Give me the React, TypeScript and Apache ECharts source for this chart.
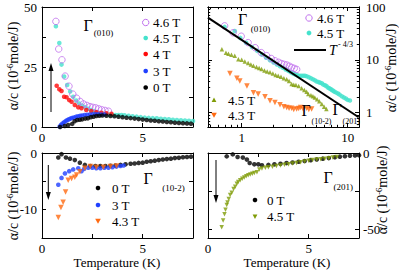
import React, { useEffect, useRef } from 'react';
import * as echarts from 'echarts';

// ---------- Panel 1: Gamma(010), linear ----------
const T46 = [0.69, 0.83, 0.99, 1.15, 1.34, 1.53, 1.72, 1.9, 2.06, 2.23, 2.38, 2.52, 2.66, 2.81, 2.96, 3.13, 3.3];
const V46 = [44, 32.5, 28, 21.2, 17, 13.7, 12, 10.6, 9.6, 9.0, 8.5, 8.2, 8.0, 7.6, 7.2, 6.9, 6.6];
const T45 = [0.69, 0.86, 0.97, 1.1, 1.25, 1.4, 1.55, 1.7, 1.85, 2.0, 2.15, 2.3, 2.45, 2.6, 2.75, 2.9, 3.05, 3.2, 3.35, 3.5, 3.65, 3.8, 3.95, 4.1, 4.3, 4.5, 4.7, 4.9, 5.1, 5.3, 5.5, 5.7, 5.9, 6.1, 6.3, 6.5, 6.7, 6.9, 7.1, 7.3, 7.5, 7.8, 8.1, 8.4, 8.8, 9.2, 9.6, 10.0, 10.5];
const V45 = [42, 35, 26, 21, 17.5, 14.8, 12.6, 11.0, 9.8, 8.9, 8.2, 7.6, 7.1, 6.6, 6.2, 5.8, 5.5, 5.3, 5.1, 5.0, 5.0, 5.0, 5.0, 4.9, 4.7, 4.5, 4.3, 4.1, 3.9, 3.8, 3.7, 3.6, 3.4, 3.3, 3.2, 3.0, 2.9, 2.8, 2.7, 2.6, 2.5, 2.4, 2.3, 2.2, 2.05, 1.95, 1.85, 1.75, 1.7];
const T4 = [0.73, 0.86, 0.97, 1.1, 1.22, 1.35, 1.47, 1.63, 1.8, 1.96, 2.2, 2.45, 2.7, 2.95, 3.2, 3.45];
const V4 = [17.2, 15.7, 15, 12.6, 12.4, 11.2, 10.5, 9.2, 8.2, 7.8, 7.1, 6.6, 6.2, 5.9, 5.7, 5.5];
const T3 = [0.88, 0.95, 1.02, 1.1, 1.18, 1.26, 1.34, 1.42, 1.5, 1.6, 1.7, 1.8, 1.9, 2.0, 2.12, 2.25, 2.38, 2.52, 2.66, 2.8, 2.95, 3.1];
const V3 = [0.2, 0.9, 1.5, 2.0, 2.5, 2.9, 3.2, 3.5, 3.8, 4.0, 4.3, 4.5, 4.7, 4.8, 5.0, 5.1, 5.2, 5.3, 5.3, 5.3, 5.2, 5.2];
const T0a = [0.9, 1.13, 1.3, 1.5, 1.62, 1.75, 1.88, 2.0, 2.15, 2.28, 2.42, 2.56, 2.7, 2.85, 3.0, 3.2, 3.4, 3.6, 3.8, 4.0, 4.2, 4.4, 4.6, 4.8, 5.0, 5.2, 5.4, 5.6, 5.8, 6.0, 6.2, 6.4, 6.6, 6.8, 7.0, 7.2, 7.4];
const V0a = [0.0, 0.4, 0.8, 1.3, 2.4, 2.9, 3.0, 3.2, 3.5, 3.6, 4.1, 4.3, 4.6, 4.7, 4.8, 4.7, 4.6, 4.5, 4.3, 4.1, 3.9, 3.7, 3.5, 3.3, 3.1, 2.9, 2.7, 2.6, 2.4, 2.3, 2.1, 2.0, 1.8, 1.7, 1.6, 1.5, 1.4];

// ---------- Panel 2: log-log |alpha/c| ----------
const T45o = [0.65, 0.71, 0.75, 0.8, 0.86, 0.93, 1.0, 1.07, 1.15, 1.22, 1.29, 1.38, 1.46, 1.54, 1.64, 1.74, 1.85, 1.97, 2.09, 2.21, 2.35, 2.5, 2.66, 2.8, 2.96, 3.1, 3.25, 3.45, 3.68, 3.9, 4.1, 4.25, 4.5, 4.7, 4.9, 5.15, 5.4, 5.7, 6.0, 6.3];
const V45o = [15.9, 13.7, 13.1, 12.5, 11.9, 10.3, 10.0, 9.3, 8.7, 8.2, 7.7, 7.3, 7.0, 6.7, 6.3, 6.0, 5.8, 5.5, 5.2, 5.0, 4.8, 4.5, 4.3, 4.0, 3.5, 3.4, 3.35, 3.2, 2.9, 2.7, 2.5, 2.25, 2.15, 2.05, 1.95, 1.8, 1.65, 1.46, 1.3, 1.17];
const T43o = [0.775, 0.9, 0.96, 1.12, 1.29, 1.43, 1.66, 1.85, 2.06, 2.3, 2.5, 2.66, 2.8, 2.96, 3.1, 3.3, 3.45, 3.6, 3.8, 4.1, 4.3, 4.57];
const V43o = [5.5, 4.5, 4.0, 3.2, 2.4, 2.25, 2.0, 1.68, 1.56, 1.42, 1.3, 1.26, 1.22, 1.22, 1.15, 1.17, 1.2, 1.25, 1.18, 1.22, 1.15, 1.17];
const FIT_T = [0.48, 12.7];
const FIT_V = [63, 0.82];

// ---------- Panel 3: Gamma(10-2) ----------
const T0c = [0.81, 0.97, 1.19, 1.39, 1.63, 1.88, 2.13, 2.4, 2.65, 2.9, 3.15, 3.4, 3.65, 3.9, 4.15, 4.4, 4.6, 4.8, 5.0, 5.2, 5.4, 5.6, 5.8, 6.0, 6.2, 6.4, 6.6, 6.8, 7.0, 7.2, 7.4];
const V0c = [-0.8, -0.2, -0.8, -1.0, -1.25, -1.7, -2.1, -2.3, -2.3, -2.3, -2.3, -2.25, -2.2, -2.1, -2.0, -1.9, -1.85, -1.75, -1.7, -1.55, -1.45, -1.35, -1.25, -1.15, -1.07, -1.0, -0.9, -0.85, -0.75, -0.7, -0.65];
const T3c = [0.81, 0.97, 1.14, 1.35, 1.55, 1.8, 1.96, 2.1, 2.3, 2.5, 2.7, 2.9, 3.1, 3.3, 3.5, 3.7, 3.9, 4.05];
const V3c = [-5.6, -4.4, -3.6, -3.2, -2.9, -2.7, -3.2, -2.8, -2.6, -2.6, -2.7, -2.7, -2.6, -2.6, -2.5, -2.4, -2.3, -2.2];
const T43c = [0.81, 0.94, 1.05, 1.17, 1.3, 1.47, 1.63, 1.72, 1.88, 2.13, 2.4, 2.7, 3.05, 3.4, 3.7];
const V43c = [-11.4, -9.6, -8.7, -6.9, -4.8, -4.5, -4.3, -3.9, -3.3, -2.7, -2.4, -2.5, -2.5, -2.4, -2.3];

// ---------- Panel 4: Gamma(201) ----------
const T0d = [0.93, 1.23, 1.47, 1.73, 1.93, 2.07, 2.3, 2.5, 2.68, 3.0, 3.3, 3.6, 3.9, 4.2, 4.5, 4.8, 5.1, 5.4, 5.7, 6.0, 6.3, 6.55, 6.8, 7.05, 7.3, 7.5];
const V0d = [-2.2, -0.9, -2.6, -3.0, -4.3, -6.5, -7.4, -7.4, -8.0, -7.8, -7.4, -7.0, -6.6, -6.2, -5.7, -5.2, -4.7, -4.2, -3.7, -3.3, -2.8, -2.4, -2.1, -1.8, -1.6, -1.5];
const T45d = [0.68, 0.75, 0.82, 0.87, 0.93, 0.97, 1.03, 1.1, 1.18, 1.27, 1.35, 1.43, 1.5, 1.6, 1.7, 1.8, 1.9, 2.0, 2.1, 2.2, 2.3, 2.43, 2.55, 2.68, 2.85, 3.0, 3.2, 3.4, 3.6, 3.8, 4.0, 4.2, 4.4, 4.6, 4.8, 5.0, 5.2, 5.4, 5.6, 5.8, 6.0, 6.2, 6.4];
const V45d = [-48.5, -44, -40, -37, -34, -32.4, -30, -27.5, -26, -23.5, -22, -20, -19, -17.8, -16.8, -16, -15.2, -14.5, -14, -13.5, -13, -12.5, -10.8, -10.2, -9.7, -9.3, -8.9, -8.5, -8.1, -7.7, -7.3, -6.9, -6.5, -6.0, -5.5, -5.0, -4.6, -4.3, -4.0, -3.8, -3.4, -3.0, -2.6];

// ---------- ticks ----------
const LIN_X_TICKS = [0, 2.5, 5, 7.5];
const LIN_X_LABELS = [0, 5];
const P1_Y_TICKS = [0, 12.5, 25, 37.5, 50];
const P1_Y_LABELS = [0, 25, 50];
const P3_Y_TICKS = [-15, -10, -5, 0];
const P3_Y_LABELS = [0, -10];
const P4_Y_TICKS = [-50, -25, 0];
const P4_Y_LABELS = [0, -50];
const LOG_X_MAJOR = [1, 10];
const LOG_X_MINOR = [0.5, 0.6, 0.7, 0.8, 0.9, 2, 3, 4, 5, 6, 7, 8, 9];
const LOG_Y_MAJOR = [1, 10, 100];
const LOG_Y_MINOR = [0.6, 0.7, 0.8, 0.9, 2, 3, 4, 5, 6, 7, 8, 9, 20, 30, 40, 50, 60, 70, 80, 90];

const FONT = 'Liberation Serif, Times New Roman, serif';
const C_PURPLE = '#c070ee';
const C_CYAN = '#44e2cc';
const C_RED = '#ff0a0a';
const C_BLUE = '#2040ff';
const C_ORANGE = '#ff6a12';
const C_OLIVE = '#809c08';

const lg = (v: number) => Math.log10(v);

function App() {
  const ref = useRef<HTMLDivElement>(null);
  useEffect(() => {
    if (!ref.current) return;
    const chart = echarts.init(ref.current, undefined, { renderer: 'svg' });

    const grids = [
      { left: 42, top: 7, width: 151, height: 120 },
      { left: 208, top: 7, width: 151, height: 120 },
      { left: 42, top: 153, width: 151, height: 85 },
      { left: 208, top: 153, width: 151, height: 85 },
    ].map((g) => ({ ...g, containLabel: false, outerBoundsMode: 'none', show: false }));

    const xAxes: any[] = [];
    const yAxes: any[] = [];
    const mk = (grid: number, pos: string, min: number, max: number, ticks: number[], labels: number[] | null, len: number, margin: number, fmt?: (v: number) => string) => ({
      type: 'value',
      gridIndex: grid,
      position: pos,
      min,
      max,
      axisLine: { show: true, onZero: false, lineStyle: { color: '#000', width: 1 } },
      axisTick: { show: true, inside: true, length: len, customValues: ticks, lineStyle: { color: '#000', width: 1 } },
      axisLabel: labels
        ? { show: true, customValues: labels, margin, color: '#000', fontFamily: FONT, fontSize: 13, formatter: fmt || ((v: number) => String(v)) }
        : { show: false },
      splitLine: { show: false },
      minorTick: { show: false },
    });
    const addX = (a: any) => { xAxes.push(a); return xAxes.length - 1; };
    const addY = (a: any) => { yAxes.push(a); return yAxes.length - 1; };

    // Panel 1
    const x1 = addX(mk(0, 'bottom', 0, 7.5, LIN_X_TICKS, LIN_X_LABELS, 4, 4));
    addX(mk(0, 'top', 0, 7.5, LIN_X_TICKS, null, 4, 4));
    const y1 = addY(mk(0, 'left', 0, 50, P1_Y_TICKS, P1_Y_LABELS, 4, 5));
    addY(mk(0, 'right', 0, 50, P1_Y_TICKS, null, 4, 5));
    // Panel 2 (log10 space)
    const lf = (v: number) => String(Math.round(Math.pow(10, v)));
    const XMIN2 = -0.318, XMAX2 = 1.107, YMIN2 = -0.27, YMAX2 = 2.0;
    const x2 = addX(mk(1, 'bottom', XMIN2, XMAX2, LOG_X_MAJOR.map(lg), LOG_X_MAJOR.map(lg), 4, 4, lf));
    addX(mk(1, 'bottom', XMIN2, XMAX2, LOG_X_MINOR.map(lg), null, 2.2, 4));
    addX(mk(1, 'top', XMIN2, XMAX2, LOG_X_MAJOR.map(lg), null, 4, 4));
    addX(mk(1, 'top', XMIN2, XMAX2, LOG_X_MINOR.map(lg), null, 2.2, 4));
    const y2 = addY(mk(1, 'right', YMIN2, YMAX2, LOG_Y_MAJOR.map(lg), LOG_Y_MAJOR.map(lg), 4, 7, lf));
    addY(mk(1, 'right', YMIN2, YMAX2, LOG_Y_MINOR.map(lg), null, 2.2, 4));
    addY(mk(1, 'left', YMIN2, YMAX2, LOG_Y_MAJOR.map(lg), null, 4, 4));
    addY(mk(1, 'left', YMIN2, YMAX2, LOG_Y_MINOR.map(lg), null, 2.2, 4));
    // Panel 3
    const x3 = addX(mk(2, 'bottom', 0, 7.5, LIN_X_TICKS, LIN_X_LABELS, 4, 4));
    addX(mk(2, 'top', 0, 7.5, LIN_X_TICKS, null, 4, 4));
    const y3 = addY(mk(2, 'left', -15, 0, P3_Y_TICKS, P3_Y_LABELS, 4, 5));
    addY(mk(2, 'right', -15, 0, P3_Y_TICKS, null, 4, 5));
    // Panel 4
    const x4 = addX(mk(3, 'bottom', 0, 7.5, LIN_X_TICKS, LIN_X_LABELS, 4, 4));
    addX(mk(3, 'top', 0, 7.5, LIN_X_TICKS, null, 4, 4));
    const y4 = addY(mk(3, 'right', -55.5, 0, P4_Y_TICKS, P4_Y_LABELS, 4, 4));
    addY(mk(3, 'left', -55.5, 0, P4_Y_TICKS, null, 4, 4));

    const pts = (xs: number[], ys: number[]) => xs.map((t, i) => [t, ys[i]]);
    const lpts = (xs: number[], ys: number[]) => xs.map((t, i) => [lg(t), lg(ys[i])]);
    const dot = (color: string, size = 4.6) => ({ symbol: 'circle', symbolSize: size, itemStyle: { color } });
    const ring = (color: string) => ({ symbol: 'circle', symbolSize: 6.5, itemStyle: { color: 'rgba(0,0,0,0)', borderColor: color, borderWidth: 1 } });
    const tri = (color: string, down: boolean, size = 5.5) => ({ symbol: 'triangle', symbolSize: size, symbolRotate: down ? 180 : 0, itemStyle: { color } });
    const S = (name: string, xi: number, yi: number, data: number[][], style: any) => ({
      type: 'scatter', name, xAxisIndex: xi, yAxisIndex: yi, data, silent: true, animation: false, ...style,
    });

    const series: any[] = [
      // panel 1
      S('4.5 T', x1, y1, pts(T45, V45), dot(C_CYAN)),
      S('4.6 T', x1, y1, pts(T46, V46), ring(C_PURPLE)),
      S('4 T', x1, y1, pts(T4, V4), dot(C_RED)),
      S('3 T', x1, y1, pts(T3, V3), dot(C_BLUE)),
      S('0 T', x1, y1, pts(T0a, V0a), dot('#000')),
      // panel 2
      {
        type: 'line', name: 'T^-4/3', xAxisIndex: x2, yAxisIndex: y2, data: lpts(FIT_T, FIT_V),
        showSymbol: false, symbol: 'none', lineStyle: { color: '#000', width: 2 }, silent: true, animation: false,
      },
      S('4.3 T (10-2)', x2, y2, lpts(T43o, V43o), tri(C_ORANGE, true)),
      S('4.5 T (201)', x2, y2, lpts(T45o, V45o), tri(C_OLIVE, false, 4.5)),
      S('4.5 T', x2, y2, lpts(T45, V45), dot(C_CYAN)),
      S('4.6 T', x2, y2, lpts(T46, V46), ring(C_PURPLE)),
      // panel 3
      S('0 T', x3, y3, pts(T0c, V0c), dot('#000')),
      S('3 T', x3, y3, pts(T3c, V3c), dot(C_BLUE)),
      S('4.3 T', x3, y3, pts(T43c, V43c), tri(C_ORANGE, true)),
      // panel 4
      S('0 T', x4, y4, pts(T0d, V0d), dot('#000')),
      S('4.5 T', x4, y4, pts(T45d, V45d), tri(C_OLIVE, true, 4.5)),
    ];

    const txt = (text: string, x: number, y: number, size: number, align = 'left', extra: any = {}) => ({
      type: 'text', x, y, silent: true, z: 100,
      style: { text, font: `${size}px ${FONT}`, fill: '#000', align, verticalAlign: 'middle', textAlign: align, textVerticalAlign: 'middle', ...extra },
    });
    const circ = (cx: number, cy: number, color: string, hollow = false, r = 2.3) => ({
      type: 'circle', silent: true, z: 100, shape: { cx, cy, r: hollow ? 3.2 : r },
      style: hollow ? { fill: 'none', stroke: color, lineWidth: 1 } : { fill: color },
    });
    const triG = (x: number, y: number, color: string, down: boolean, s = 2.8) => ({
      type: 'polygon', silent: true, z: 100,
      shape: { points: down ? [[x - s, y - s * 0.8], [x + s, y - s * 0.8], [x, y + s]] : [[x - s, y + s * 0.8], [x + s, y + s * 0.8], [x, y - s]] },
      style: { fill: color },
    });
    const arrow = (x: number, y0: number, y1: number) => {
      const dir = y1 > y0 ? 1 : -1;
      return [
        { type: 'line', silent: true, z: 100, shape: { x1: x, y1: y0, x2: x, y2: y1 - dir * 6 }, style: { stroke: '#000', lineWidth: 1 } },
        { type: 'polygon', silent: true, z: 100, shape: { points: [[x - 2.5, y1 - dir * 8], [x + 2.5, y1 - dir * 8], [x, y1]] }, style: { fill: '#000' } },
      ];
    };
    const yname = (x: number, y: number) => ({
      type: 'text', x, y, rotation: Math.PI / 2, silent: true, z: 100,
      style: {
        text: '{a|α/c (10}{s|-6}{a|mole/J)}',
        rich: { a: { font: `14px ${FONT}`, fill: '#000', lineHeight: 15 }, s: { font: `8.5px ${FONT}`, fill: '#000', verticalAlign: 'top', lineHeight: 9 } },
        align: 'center', verticalAlign: 'middle', textAlign: 'center', textVerticalAlign: 'middle',
      },
    });
    // Gamma with a subscript placed to its lower right
    const gamma = (x: number, y: number, sub: string, sx: number, sy: number, subSize = 9, subAlign = 'center') => [
      txt('Γ', x, y, 16, 'center'),
      txt(sub, sx, sy, subSize, subAlign),
    ];

    const graphic: any[] = [
      // panel 1
      ...gamma(88, 25, '(010)', 103.5, 33),
      circ(145.7, 22.5, C_PURPLE, true), txt('4.6 T', 153, 22.5, 13),
      circ(145.7, 38, C_CYAN), txt('4.5 T', 153, 38, 13),
      circ(145.7, 54, C_RED), txt('4 T', 153, 54, 13),
      circ(145.7, 71, C_BLUE), txt('3 T', 153, 71, 13),
      circ(145.7, 87.5, '#000'), txt('0 T', 153, 87.5, 13),
      ...arrow(51, 112, 63),
      // panel 2
      ...gamma(242.6, 19, '(010)', 260.5, 29),
      circ(309, 18, C_PURPLE, true), txt('4.6 T', 317, 18, 13),
      circ(309, 33, C_CYAN, false, 2.4), txt('4.5 T', 317, 33, 13),
      { type: 'line', silent: true, z: 100, shape: { x1: 294, y1: 50, x2: 326, y2: 50 }, style: { stroke: '#000', lineWidth: 2 } },
      txt('T', 329, 50, 14, 'left', { font: `italic 14px ${FONT}` }),
      txt('- 4/3', 338, 44.5, 8, 'left'),
      triG(214, 100, C_OLIVE, false, 2.4), txt('4.5 T', 228, 100, 13),
      triG(214, 115, C_ORANGE, true, 2.8), txt('4.3 T', 228, 115, 13),
      ...gamma(306, 110.5, '(10-2)', 311.5, 121.5, 8, 'left'),
      ...gamma(337, 109.5, '(201)', 342.5, 121.5, 8, 'left'),
      // panel 3
      ...arrow(48.3, 165, 200),
      circ(98, 188, '#000'), txt('0 T', 112, 188, 13),
      circ(98, 205, C_BLUE), txt('3 T', 112, 205, 13),
      triG(98, 221, C_ORANGE, true), txt('4.3 T', 112, 221, 13),
      ...gamma(148, 178, '(10-2)', 173.5, 188),
      // panel 4
      ...arrow(216, 160, 203),
      circ(255, 200, '#000'), txt('0 T', 267, 200, 13),
      triG(255, 216.5, C_OLIVE, true, 2.4), txt('4.5 T', 267, 216.5, 13),
      ...gamma(328, 177, '(201)', 333.5, 187, 9, 'left'),
      // axis names
      yname(13, 66), yname(13, 196), yname(391, 68), yname(382, 190),
      txt('Temperature (K)', 117, 262, 13, 'center'),
      txt('Temperature (K)', 287, 262, 13, 'center'),
    ];

    chart.setOption({
      animation: false,
      backgroundColor: '#fff',
      textStyle: { fontFamily: FONT },
      grid: grids,
      xAxis: xAxes,
      yAxis: yAxes,
      series,
      graphic,
    });
    return () => chart.dispose();
  }, []);
  return <div ref={ref} style={{ position: 'absolute', left: 0, top: 0, width: 399, height: 272, background: '#fff' }} />;
}

export default App;
